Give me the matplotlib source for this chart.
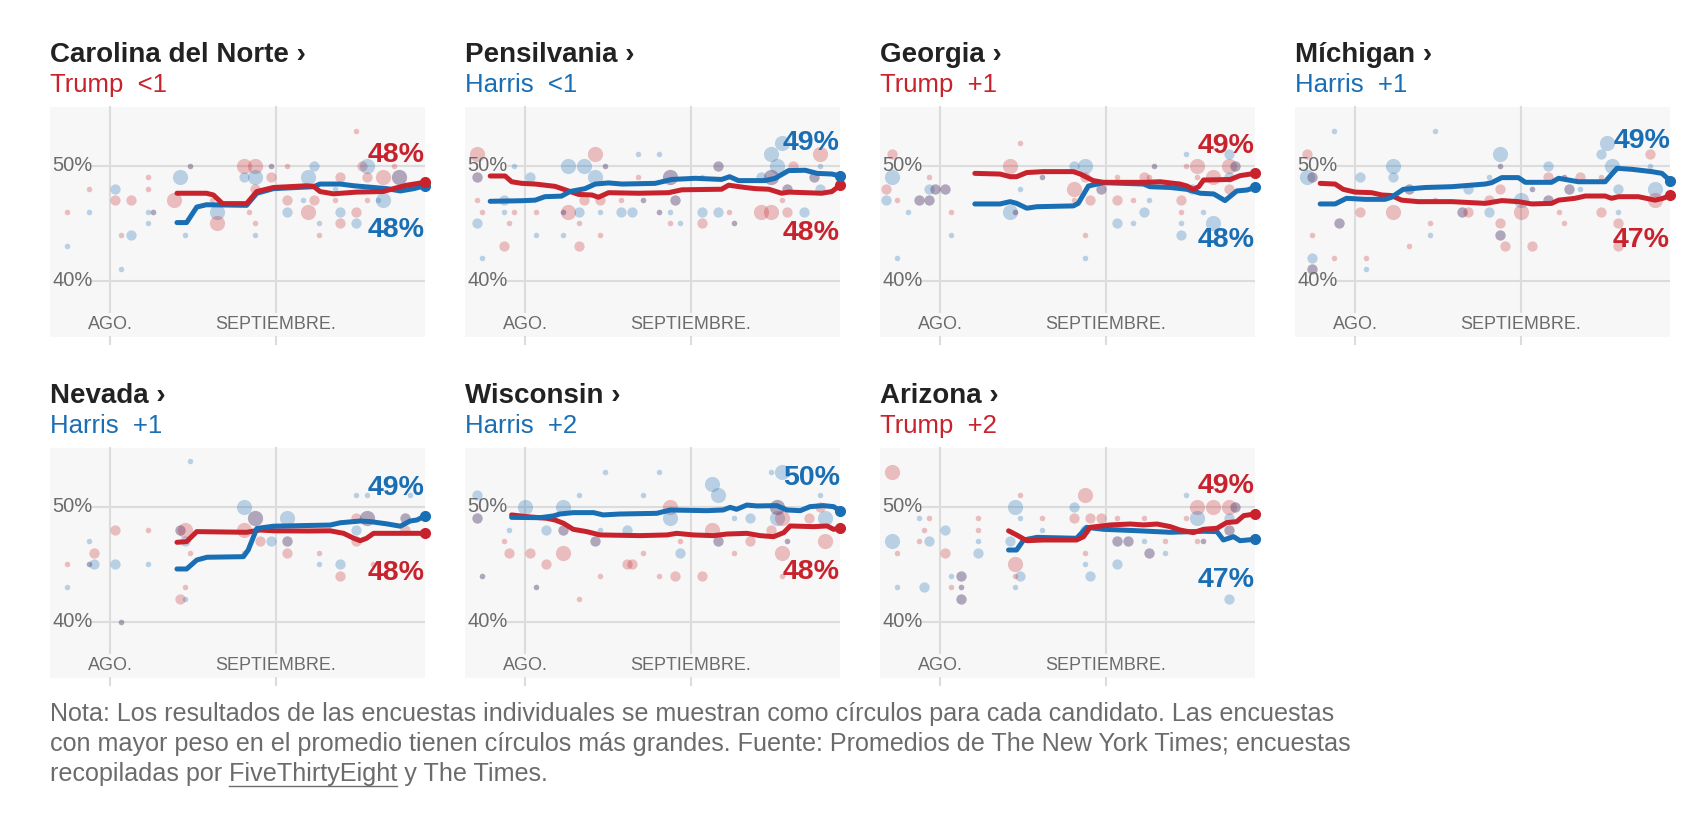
import matplotlib.pyplot as plt
import matplotlib.transforms as mtransforms
import numpy as np

plt.rcParams["font.family"] = ["Liberation Sans", "DejaVu Sans"]

RED = "#c8232d"
BLUE = "#196eb4"
PANEL_BG = "#f7f7f7"
GRID = "#dcdcdc"
GRAY = "#6b6b6b"

# days counted from Aug 1 (0) ; Sep 1 = 31
STATES = ["Carolina del Norte", "Pensilvania", "Georgia", "Míchigan",
          "Nevada", "Wisconsin", "Arizona"]
LEADERS = ["Trump", "Harris", "Trump", "Harris", "Harris", "Harris", "Trump"]
MARGINS = ["<1", "<1", "+1", "+1", "+1", "+2", "+2"]
TRUMP_LABELS = [48, 48, 49, 47, 48, 48, 49]
HARRIS_LABELS = [48, 49, 48, 49, 49, 50, 47]

NC_TRUMP = [(12.5, 47.6), (18, 47.6), (19.3, 47.45), (21, 46.7), (25.5, 46.7), (27.4, 47.75),
            (30.5, 48.1), (36.7, 48.25), (38, 48.2), (39.2, 47.75), (41.7, 47.55), (46.1, 47.7),
            (51, 47.75), (52.9, 48.0), (55.4, 48.3), (58.8, 48.55)]
NC_HARRIS = [(12.5, 45.05), (14.3, 45.05), (16.2, 46.4), (18, 46.6), (25.5, 46.55), (27.4, 47.6),
             (30.5, 48.0), (38, 48.17), (39.2, 48.4), (43, 48.4), (45.5, 48.25), (51.7, 48.0),
             (54.2, 47.8), (56.7, 48.0), (58.8, 48.25)]

PA_TRUMP = [(-6.5, 49.1), (-3.7, 49.1), (-2.5, 48.6), (-0.6, 48.46), (1.9, 48.4), (5.6, 48.2),
            (7.5, 47.9), (10, 47.5), (12.5, 47.45), (13.7, 47.25), (15.6, 47.65), (21.2, 47.6),
            (26.8, 47.65), (29.3, 47.9), (36.7, 47.95), (38, 48.3), (41.1, 48.1), (43, 48.0),
            (45.5, 47.95), (47.9, 47.6), (49.2, 47.7), (55.4, 47.6), (57.3, 47.75), (58.8, 48.3)]
PA_HARRIS = [(-6.5, 46.9), (-0.6, 46.95), (1.9, 47.0), (3.7, 47.3), (6.8, 47.35), (8.4, 47.75),
             (11.2, 48.0), (13.1, 48.4), (15.6, 48.5), (18.1, 48.4), (24.3, 48.46), (27.4, 48.8),
             (31.8, 48.9), (36.7, 48.8), (38.2, 49.04), (39.85, 48.7), (44.8, 48.7), (46.7, 48.9),
             (49.2, 49.57), (52.3, 49.6), (54.5, 49.33), (57.3, 49.27), (58.8, 49.1)]

GA_TRUMP = [(6.5, 49.33), (11.2, 49.27), (13.1, 49.04), (14.3, 49.04), (16.2, 49.4), (19.3, 49.48),
            (24.9, 49.48), (26.2, 49.27), (28.6, 48.7), (30.5, 48.55), (38, 48.55), (41.1, 48.6),
            (44.8, 48.4), (46.1, 48.23), (47.3, 47.94), (48.3, 48.17), (49.2, 48.75), (54.2, 48.8),
            (56, 49.13), (58.8, 49.33)]
GA_HARRIS = [(6.5, 46.67), (11.2, 46.67), (13.1, 46.87), (14.3, 46.72), (16.2, 46.3), (18.1, 46.43),
             (24.9, 46.5), (25.8, 46.72), (27.7, 48.23), (30.5, 48.52), (38, 48.4), (39.2, 48.17),
             (43, 48.1), (46.1, 47.94), (48.6, 47.6), (51.1, 47.54), (53.2, 46.96), (55.4, 47.8),
             (57.3, 47.88), (58.8, 48.1)]

MI_TRUMP = [(-6.5, 48.46), (-3.7, 48.4), (-2.2, 47.94), (0, 47.7), (3.1, 47.65), (5, 47.45),
            (6.8, 47.4), (8.7, 47.0), (11.8, 46.87), (18.1, 46.87), (24.3, 46.72), (27.4, 46.96),
            (30.5, 46.87), (33, 46.67), (36.7, 46.72), (38, 47.0), (41.1, 47.16), (43, 47.36),
            (46.7, 47.36), (47.9, 47.16), (49.2, 47.3), (52.9, 47.3), (56, 47.0), (57.5, 47.16),
            (58.8, 47.42)]
MI_HARRIS = [(-6.5, 46.67), (-3.7, 46.67), (-1.6, 47.16), (1.9, 47.07), (5.6, 47.07), (6.8, 47.25),
             (9, 47.94), (13.1, 48.1), (18.1, 48.17), (24.3, 48.4), (25.5, 48.52), (27.4, 48.96),
             (30.5, 48.96), (31.8, 48.55), (36.7, 48.55), (38, 48.9), (41.7, 48.6), (46.7, 48.6),
             (48.9, 49.77), (51.7, 49.68), (55.4, 49.48), (57.3, 49.33), (58.8, 48.7)]

NV_TRUMP = [(12.5, 46.9), (14.3, 46.96), (16.2, 47.83), (25.5, 47.77), (28, 47.97), (30.5, 47.9),
            (36.7, 47.88), (41.1, 47.9), (43.6, 47.68), (45.5, 47.25), (46.7, 47.04), (47.9, 47.25),
            (49.2, 47.68), (55.4, 47.68), (58.8, 47.68)]
NV_HARRIS = [(12.5, 44.58), (14.3, 44.58), (16.2, 45.36), (18.1, 45.6), (24.9, 45.65), (25.8, 46.23),
             (27.4, 48.1), (30.5, 48.3), (41.1, 48.4), (43, 48.6), (46.7, 48.75), (48.6, 48.7),
             (51.7, 48.5), (54.2, 48.3), (56, 48.75), (57.3, 48.84), (58.8, 49.2)]

WI_TRUMP = [(-2.5, 49.28), (0.3, 49.13), (4, 48.99), (5.6, 48.84), (7.2, 48.55), (9, 48.03),
            (11.5, 47.83), (14, 47.54), (21.5, 47.48), (26.5, 47.54), (28.3, 47.68), (31.4, 47.54),
            (35.2, 47.48), (37.7, 47.62), (41.4, 47.68), (43.9, 47.48), (46.4, 47.39), (48.3, 47.74),
            (49.5, 48.32), (53.9, 48.26), (56.4, 48.32), (57.6, 48.03), (58.8, 48.12)]
WI_HARRIS = [(-2.5, 49.07), (2.8, 49.04), (5.3, 49.19), (6.5, 49.36), (9, 49.48), (12.8, 49.48),
             (14.6, 49.28), (17.7, 49.36), (24.6, 49.42), (27.1, 49.71), (33.9, 49.65), (37, 49.71),
             (38.3, 49.94), (39.5, 49.77), (41.4, 50.14), (43.3, 50.06), (47, 50.09), (48.9, 49.71),
             (51.4, 49.65), (53.2, 50.0), (55.7, 50.09), (57.6, 50.0), (58.8, 49.65)]

AZ_TRUMP = [(12.8, 47.9), (14.3, 47.54), (16.2, 47.04), (19.3, 47.1), (25.5, 47.1), (26.8, 47.39),
            (28, 48.2), (31.8, 48.41), (35.5, 48.49), (38, 48.41), (40.5, 48.49), (43, 48.26),
            (44.8, 47.97), (47.3, 47.74), (49.2, 48.03), (51.7, 48.12), (53.5, 48.61), (55.4, 48.7),
            (56.7, 49.22), (58.8, 49.36)]
AZ_HARRIS = [(12.8, 46.23), (14.3, 46.23), (15.6, 47.1), (18.1, 47.33), (25.5, 47.25), (27.4, 48.2),
             (30.5, 48.03), (36.7, 47.91), (43, 47.77), (49.2, 47.86), (51.7, 47.83), (52.9, 47.1),
             (54.8, 47.39), (56, 47.04), (58.8, 47.16)]

# individual polls: (day, pct, weight 1-3, T / H / B = both at same value)
NC_POLLS = [(-8, 46, 1, 'T'), (-8, 43, 1, 'H'), (-4, 48, 1, 'T'), (-4, 46, 1, 'H'), (1, 48, 2, 'H'),
            (1, 47, 2, 'T'), (2, 41, 1, 'H'), (2, 44, 1, 'T'), (4, 47, 2, 'T'), (4, 44, 2, 'H'),
            (7, 49, 1, 'T'), (7, 48, 1, 'T'), (7, 46, 1, 'H'), (8, 46, 1, 'B'), (7, 45, 1, 'H'),
            (13, 49, 3, 'H'), (12, 47, 3, 'T'), (15, 50, 1, 'B'), (14, 44, 1, 'H'), (20, 46, 3, 'H'),
            (20, 45, 3, 'T'), (19, 47, 1, 'T'), (25, 50, 3, 'T'), (27, 50, 3, 'T'), (25, 49, 2, 'H'),
            (27, 49, 3, 'H'), (27, 48, 2, 'T'), (27, 45, 1, 'T'), (27, 44, 1, 'H'), (26, 46, 1, 'T'),
            (30, 50, 1, 'B'), (30, 49, 2, 'T'), (33, 50, 1, 'T'), (33, 47, 2, 'T'), (33, 46, 2, 'H'),
            (38, 50, 2, 'H'), (37, 49, 3, 'H'), (37, 46, 3, 'T'), (38, 47, 2, 'T'), (36, 47, 1, 'H'),
            (39, 45, 1, 'H'), (39, 44, 1, 'T'), (43, 49, 2, 'T'), (42, 48, 1, 'H'), (42, 47, 1, 'T'),
            (43, 46, 2, 'H'), (43, 45, 2, 'T'), (46, 53, 1, 'T'), (47, 50, 2, 'T'), (48, 50, 3, 'H'),
            (48, 49, 2, 'T'), (46, 46, 2, 'T'), (46, 45, 2, 'H'), (51, 47, 3, 'H'), (51, 49, 3, 'T'),
            (54, 49, 3, 'B'), (53, 50, 1, 'T'), (50, 47, 1, 'H'), (48, 47, 1, 'T')]

PA_POLLS = [(-9, 51, 3, 'T'), (-9, 49, 2, 'B'), (-2, 50, 1, 'H'), (-9, 47, 1, 'T'), (-9, 45, 2, 'H'),
            (-8, 46, 1, 'T'), (-8, 42, 1, 'H'), (-4, 43, 2, 'T'), (-4, 47, 2, 'H'), (-4, 46, 1, 'H'),
            (-3, 45, 1, 'T'), (-2, 46, 1, 'T'), (1, 49, 2, 'H'), (2, 44, 1, 'H'), (2, 46, 1, 'T'),
            (8, 46, 3, 'T'), (7, 46, 1, 'B'), (7, 44, 1, 'H'), (8, 50, 3, 'H'), (11, 50, 3, 'H'),
            (13, 51, 3, 'T'), (13, 49, 3, 'H'), (11, 47, 2, 'T'), (15, 50, 1, 'B'), (14, 47, 2, 'T'),
            (14, 44, 1, 'T'), (10, 43, 2, 'T'), (10, 46, 2, 'H'), (10, 45, 1, 'T'), (14, 46, 1, 'H'),
            (18, 46, 2, 'H'), (20, 46, 2, 'H'), (18, 47, 1, 'T'), (21, 49, 1, 'T'), (21, 51, 1, 'H'),
            (25, 51, 1, 'H'), (22, 47, 1, 'B'), (27, 49, 3, 'B'), (28, 47, 2, 'B'), (27, 45, 1, 'T'),
            (29, 45, 1, 'H'), (27, 46, 1, 'H'), (25, 46, 1, 'B'), (33, 49, 1, 'T'), (33, 46, 2, 'H'),
            (33, 45, 2, 'T'), (36, 46, 2, 'H'), (36, 50, 2, 'B'), (38, 46, 1, 'T'), (39, 45, 1, 'B'),
            (46, 51, 3, 'H'), (48, 52, 3, 'H'), (47, 50, 3, 'H'), (46, 49, 3, 'B'), (46, 46, 3, 'T'),
            (44, 46, 3, 'T'), (44, 49, 2, 'H'), (49, 48, 2, 'B'), (49, 46, 2, 'T'), (48, 47, 1, 'T'),
            (52, 46, 2, 'H'), (55, 51, 3, 'T'), (54, 49, 2, 'B'), (55, 48, 2, 'H'), (50, 50, 2, 'T'),
            (55, 50, 1, 'H')]

GA_POLLS = [(-9, 51, 2, 'T'), (-9, 49, 3, 'H'), (-10, 48, 2, 'T'), (-10, 47, 2, 'H'), (-8, 47, 1, 'T'),
            (-8, 42, 1, 'H'), (-6, 46, 1, 'H'), (-2, 49, 1, 'T'), (-2, 48, 2, 'H'), (-1, 48, 2, 'B'),
            (-4, 47, 2, 'B'), (-2, 47, 2, 'B'), (1, 48, 2, 'B'), (2, 46, 1, 'T'), (2, 44, 1, 'H'),
            (15, 52, 1, 'T'), (13, 50, 3, 'T'), (13, 46, 3, 'H'), (14, 46, 1, 'B'), (15, 48, 1, 'H'),
            (19, 49, 1, 'B'), (25, 50, 2, 'H'), (27, 50, 3, 'H'), (25, 48, 3, 'T'), (27, 49, 2, 'T'),
            (25, 47, 1, 'T'), (28, 47, 2, 'T'), (30, 48, 2, 'B'), (27, 44, 1, 'T'), (27, 42, 1, 'H'),
            (33, 49, 1, 'T'), (33, 47, 2, 'T'), (33, 45, 2, 'H'), (36, 45, 1, 'H'), (36, 47, 1, 'T'),
            (38, 46, 2, 'H'), (38, 49, 2, 'T'), (40, 50, 1, 'B'), (39, 49, 1, 'T'), (39, 47, 1, 'H'),
            (45, 47, 2, 'T'), (45, 46, 1, 'T'), (45, 45, 1, 'H'), (45, 44, 2, 'H'), (46, 51, 1, 'H'),
            (46, 50, 1, 'T'), (48, 50, 3, 'T'), (48, 49, 1, 'T'), (47, 48, 2, 'H'), (49, 46, 1, 'H'),
            (51, 45, 3, 'H'), (51, 49, 3, 'T'), (54, 50, 3, 'T'), (54, 48, 2, 'T'), (54, 49, 2, 'H'),
            (54, 51, 2, 'H'), (55, 50, 2, 'B')]

MI_POLLS = [(-9, 51, 2, 'T'), (-9, 49, 3, 'H'), (-8, 49, 2, 'B'), (-4, 53, 1, 'H'), (-8, 44, 1, 'T'),
            (-8, 42, 2, 'H'), (-8, 41, 2, 'B'), (-3, 45, 2, 'B'), (-4, 42, 1, 'T'), (1, 49, 2, 'H'),
            (1, 46, 2, 'T'), (2, 42, 1, 'T'), (2, 41, 1, 'H'), (7, 50, 3, 'H'), (7, 49, 2, 'H'),
            (7, 46, 3, 'T'), (10, 48, 2, 'B'), (10, 43, 1, 'T'), (14, 45, 1, 'T'), (14, 44, 1, 'H'),
            (15, 53, 1, 'H'), (15, 47, 1, 'T'), (21, 48, 2, 'H'), (20, 46, 2, 'B'), (21, 46, 2, 'T'),
            (25, 46, 2, 'H'), (25, 47, 2, 'T'), (25, 49, 1, 'H'), (27, 51, 3, 'H'), (27, 50, 1, 'B'),
            (27, 48, 2, 'T'), (27, 45, 2, 'T'), (27, 44, 2, 'B'), (28, 43, 2, 'T'), (31, 47, 3, 'H'),
            (31, 46, 3, 'T'), (33, 43, 2, 'T'), (33, 48, 1, 'B'), (36, 50, 2, 'H'), (36, 49, 2, 'T'),
            (36, 47, 2, 'B'), (38, 46, 1, 'T'), (39, 45, 1, 'T'), (39, 49, 1, 'B'), (40, 48, 2, 'B'),
            (42, 49, 2, 'T'), (42, 48, 1, 'H'), (47, 52, 3, 'H'), (46, 51, 2, 'H'), (48, 50, 3, 'H'),
            (46, 49, 1, 'T'), (46, 46, 2, 'T'), (49, 48, 2, 'H'), (49, 46, 1, 'H'), (49, 43, 2, 'T'),
            (49, 45, 2, 'T'), (55, 51, 2, 'T'), (55, 50, 1, 'H'), (56, 48, 3, 'H'), (56, 47, 3, 'T')]

NV_POLLS = [(-8, 45, 1, 'T'), (-8, 43, 1, 'H'), (-4, 47, 1, 'H'), (-3, 46, 2, 'T'), (-4, 45, 1, 'B'),
            (-3, 45, 2, 'H'), (1, 48, 2, 'T'), (1, 45, 2, 'H'), (2, 40, 1, 'B'), (7, 48, 1, 'T'),
            (7, 45, 1, 'H'), (13, 48, 2, 'B'), (14, 48, 3, 'T'), (14, 47, 2, 'H'), (15, 46, 1, 'T'),
            (15, 54, 1, 'H'), (14, 43, 1, 'T'), (13, 42, 2, 'T'), (14, 42, 1, 'H'), (25, 50, 3, 'H'),
            (27, 49, 3, 'B'), (25, 48, 3, 'T'), (25, 46, 1, 'T'), (28, 47, 2, 'T'), (30, 47, 2, 'H'),
            (33, 49, 3, 'H'), (33, 47, 2, 'B'), (33, 46, 2, 'T'), (39, 46, 1, 'T'), (39, 45, 1, 'H'),
            (43, 45, 2, 'H'), (43, 44, 2, 'T'), (46, 51, 1, 'H'), (46, 49, 2, 'T'), (46, 48, 2, 'H'),
            (46, 47, 2, 'T'), (48, 49, 3, 'B'), (48, 51, 1, 'H'), (49, 45, 1, 'T'), (55, 49, 2, 'B'),
            (55, 48, 2, 'T'), (56, 51, 1, 'H')]

WI_POLLS = [(-9, 51, 2, 'H'), (-9, 49, 2, 'B'), (-3, 48, 1, 'H'), (-4, 47, 1, 'T'), (-3, 46, 2, 'T'),
            (-8, 44, 1, 'B'), (0, 50, 3, 'H'), (1, 46, 2, 'T'), (2, 43, 1, 'B'), (4, 48, 2, 'H'),
            (4, 45, 2, 'T'), (7, 50, 3, 'H'), (7, 48, 2, 'B'), (7, 46, 3, 'T'), (10, 51, 1, 'H'),
            (10, 42, 1, 'T'), (15, 53, 1, 'H'), (13, 47, 2, 'B'), (14, 48, 1, 'H'), (14, 44, 1, 'T'),
            (19, 48, 2, 'H'), (19, 45, 2, 'T'), (20, 45, 2, 'T'), (22, 51, 1, 'H'), (22, 46, 1, 'T'),
            (25, 53, 1, 'H'), (27, 50, 3, 'T'), (27, 49, 3, 'H'), (25, 44, 1, 'T'), (28, 44, 2, 'T'),
            (29, 46, 2, 'H'), (29, 47, 1, 'T'), (33, 44, 2, 'T'), (35, 52, 3, 'H'), (36, 51, 3, 'H'),
            (35, 48, 3, 'T'), (36, 47, 2, 'B'), (39, 46, 1, 'T'), (39, 49, 1, 'H'), (42, 49, 2, 'H'),
            (42, 47, 2, 'T'), (47, 49, 3, 'H'), (47, 50, 3, 'B'), (48, 49, 3, 'T'), (46, 48, 2, 'T'),
            (48, 46, 3, 'T'), (48, 53, 3, 'H'), (46, 53, 1, 'H'), (49, 47, 1, 'B'), (48, 44, 1, 'T'),
            (56, 47, 3, 'T'), (56, 49, 3, 'H'), (55, 51, 1, 'H'), (53, 49, 2, 'T'), (55, 50, 2, 'T')]

AZ_POLLS = [(-9, 53, 3, 'T'), (-9, 47, 3, 'H'), (-8, 46, 1, 'T'), (-8, 43, 1, 'H'), (-4, 47, 1, 'T'),
            (-3, 48, 1, 'T'), (-2, 49, 1, 'T'), (-4, 49, 1, 'H'), (-2, 47, 2, 'H'), (-3, 43, 2, 'H'),
            (1, 48, 2, 'H'), (1, 46, 2, 'T'), (2, 44, 1, 'H'), (2, 43, 1, 'T'), (4, 44, 2, 'B'),
            (4, 43, 1, 'B'), (4, 42, 2, 'B'), (7, 49, 1, 'T'), (7, 48, 1, 'T'), (7, 47, 1, 'H'),
            (7, 46, 2, 'H'), (14, 50, 3, 'H'), (15, 51, 1, 'T'), (15, 49, 1, 'H'), (13, 47, 2, 'H'),
            (14, 45, 3, 'T'), (15, 44, 2, 'H'), (14, 44, 1, 'T'), (14, 43, 1, 'H'), (19, 49, 1, 'T'),
            (19, 48, 1, 'H'), (27, 51, 3, 'T'), (25, 50, 2, 'H'), (25, 49, 2, 'T'), (28, 49, 2, 'T'),
            (30, 49, 2, 'T'), (27, 48, 2, 'H'), (27, 46, 1, 'T'), (27, 45, 1, 'H'), (28, 44, 2, 'H'),
            (33, 49, 1, 'T'), (33, 47, 2, 'B'), (35, 47, 2, 'B'), (33, 45, 2, 'H'), (38, 49, 1, 'T'),
            (39, 46, 2, 'B'), (38, 47, 1, 'H'), (42, 47, 1, 'T'), (42, 46, 1, 'H'), (46, 51, 1, 'H'),
            (48, 50, 3, 'T'), (51, 50, 3, 'T'), (48, 49, 3, 'H'), (46, 49, 1, 'T'), (48, 47, 1, 'T'),
            (49, 47, 1, 'B'), (54, 50, 3, 'T'), (55, 50, 2, 'B'), (54, 49, 2, 'H'), (54, 48, 2, 'B'),
            (54, 42, 2, 'H')]

TRUMP_AVGS = [NC_TRUMP, PA_TRUMP, GA_TRUMP, MI_TRUMP, NV_TRUMP, WI_TRUMP, AZ_TRUMP]
HARRIS_AVGS = [NC_HARRIS, PA_HARRIS, GA_HARRIS, MI_HARRIS, NV_HARRIS, WI_HARRIS, AZ_HARRIS]
POLLS = [NC_POLLS, PA_POLLS, GA_POLLS, MI_POLLS, NV_POLLS, WI_POLLS, AZ_POLLS]

NOTE_1 = ("Nota: Los resultados de las encuestas individuales se muestran como círculos "
          "para cada candidato. Las encuestas")
NOTE_2 = ("con mayor peso en el promedio tienen círculos más grandes. Fuente: Promedios de "
          "The New York Times; encuestas")
NOTE_3_A = "recopiladas por "
NOTE_3_LINK = "FiveThirtyEight"
NOTE_3_B = " y The Times."

W, H = 1698, 826
COL_X = [50, 465, 880, 1295]
ROW_TOP = [107, 448]
PANEL_W, PANEL_H = 375, 230
SIZES = {1: 16, 2: 55, 3: 120}

fig = plt.figure(figsize=(W / 100, H / 100), dpi=100)
fig.patch.set_facecolor("white")

for i, state in enumerate(STATES):
    row, col = divmod(i, 4)
    left, top = COL_X[col], ROW_TOP[row]
    ax = fig.add_axes([left / W, 1 - (top + PANEL_H) / H, PANEL_W / W, PANEL_H / H])
    ax.set_facecolor(PANEL_BG)
    ax.set_xlim(-11.2, 58.8)
    ax.set_ylim(35.1, 55.1)
    for s in ax.spines.values():
        s.set_visible(False)
    ax.set_xticks([])
    ax.set_yticks([])

    # grid
    for yv in (50, 40):
        ax.axhline(yv, xmin=0.115, xmax=1, color=GRID, lw=1.5, zorder=1)
    for xv in (0, 31):
        ax.axvline(xv, ymin=-0.03, ymax=1, color=GRID, lw=1.5, zorder=1, clip_on=False)

    blend = mtransforms.blended_transform_factory(ax.transAxes, ax.transData)
    for yv in (50, 40):
        ax.text(0.006, yv, f"{yv}%", transform=blend, ha="left", va="center",
                fontsize=14.5, color=GRAY, zorder=5)
    for xv, lab in ((0, "AGO."), (31, "SEPTIEMBRE.")):
        ax.text(xv, 36.2, lab, ha="center", va="center", fontsize=13, color=GRAY, zorder=5,
                bbox=dict(boxstyle="square,pad=0.15", fc=PANEL_BG, ec="none"))

    # polls
    for day, pct, wgt, who in POLLS[i]:
        if who in ("T", "B"):
            ax.scatter(day, pct, s=SIZES[wgt], color=RED, alpha=0.28, lw=0, zorder=2)
        if who in ("H", "B"):
            ax.scatter(day, pct, s=SIZES[wgt], color=BLUE, alpha=0.28, lw=0, zorder=2)

    trump = np.array(TRUMP_AVGS[i])
    harris = np.array(HARRIS_AVGS[i])
    series = [(trump, RED), (harris, BLUE)]
    if LEADERS[i] == "Trump":
        series = series[::-1]
    for z, (arr, color) in enumerate(series):
        ax.plot(arr[:, 0], arr[:, 1], color=color, lw=3.6, solid_capstyle="round",
                solid_joinstyle="round", zorder=3 + z)
        ax.plot(arr[-1, 0], arr[-1, 1], "o", color=color, ms=7, zorder=3 + z, clip_on=False)

    # end labels: above the higher line, below the lower one
    t_item = (trump, RED, TRUMP_LABELS[i])
    h_item = (harris, BLUE, HARRIS_LABELS[i])
    if trump[-1, 1] >= harris[-1, 1]:
        upper, lower = t_item, h_item
    else:
        upper, lower = h_item, t_item
    ua, uc, ul = upper
    la, lc, ll = lower
    u_max = ua[ua[:, 0] >= 48, 1].max()
    l_min = la[la[:, 0] >= 48, 1].min()
    ax.text(1.0, u_max + 1.8, f"{ul}%", transform=blend, ha="right", va="baseline",
            fontsize=20.5, fontweight="bold", color=uc, zorder=6)
    ax.text(1.0, l_min - 2.3, f"{ll}%", transform=blend, ha="right", va="top",
            fontsize=20.5, fontweight="bold", color=lc, zorder=6)

    # titles
    fig.text(left / W, 1 - (top - 45) / H, f"{state} ›", fontsize=20, fontweight="bold",
             color="#222222", va="baseline", ha="left")
    lead_color = RED if LEADERS[i] == "Trump" else BLUE
    fig.text(left / W, 1 - (top - 15) / H, f"{LEADERS[i]}  {MARGINS[i]}", fontsize=18.5,
             color=lead_color, va="baseline", ha="left")

# footnote
note_kw = dict(fontsize=18.1, color=GRAY, va="baseline", ha="left")
fig.text(50 / W, 1 - 721 / H, NOTE_1, **note_kw)
fig.text(50 / W, 1 - 751 / H, NOTE_2, **note_kw)
fig.text(50 / W, 1 - 781 / H, NOTE_3_A + NOTE_3_LINK + NOTE_3_B, **note_kw)

renderer = fig.canvas.get_renderer()
probe_a = fig.text(0, 0, NOTE_3_A + NOTE_3_LINK, **note_kw)
probe_b = fig.text(0, 0, NOTE_3_LINK, **note_kw)
w_ab = probe_a.get_window_extent(renderer).width
w_b = probe_b.get_window_extent(renderer).width
probe_a.remove()
probe_b.remove()
x0 = 50 + w_ab - w_b
x1 = 50 + w_ab
y_u = 1 - 786 / H
fig.add_artist(plt.Line2D([x0 / W, x1 / W], [y_u, y_u], transform=fig.transFigure,
                          color=GRAY, lw=1))

fig.savefig("out.png", dpi=100, facecolor="white")
